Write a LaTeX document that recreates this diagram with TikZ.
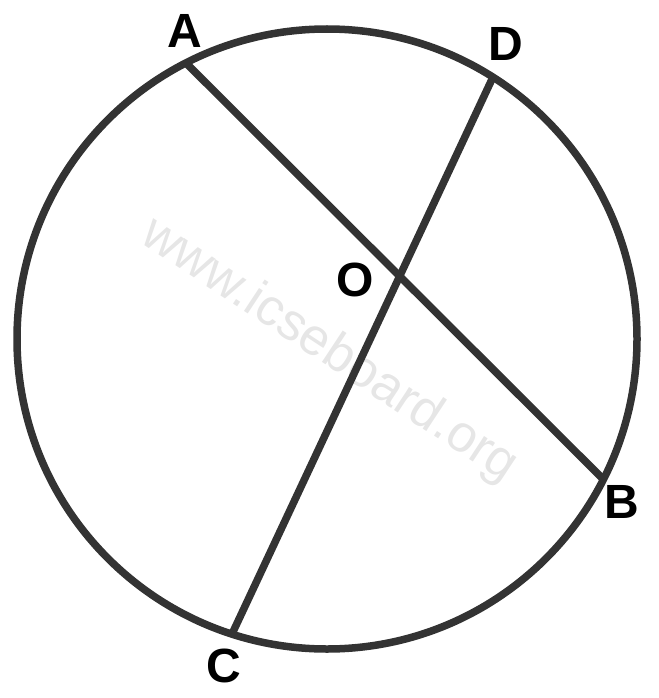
\documentclass[tikz,border=0pt]{standalone}
\usepackage{fontspec}
\setmainfont{Liberation Sans}
\definecolor{stroke}{HTML}{333333}
\definecolor{wmark}{HTML}{E6E6E6}
\begin{document}
\begin{tikzpicture}[x=1pt,y=-1pt,
  geo/.style={draw=stroke,line width=7.5pt},
  lbl/.style={font=\fontsize{48}{48}\selectfont\bfseries,inner sep=0pt,text=black},
  wm/.style={font=\fontsize{52}{52}\selectfont,text=wmark,inner sep=0pt}]
\useasboundingbox (0,0) rectangle (658,698);
\node[wm,anchor=base,rotate=-33.4] (wmk) at (321.5,362) {www.icseboard.org};
\coordinate (Ctr) at (327,339);
\coordinate (A) at (186,63);
\coordinate (B) at (603,479);
\coordinate (C) at (232,634);
\coordinate (D) at (493,77);
\coordinate (O) at (intersection of A--B and C--D);
\draw[geo] (Ctr) circle[radius=310];
\draw[geo] (A) -- (B);
\draw[geo] (C) -- (D);
\node[lbl] (lA) at (185,31) {A};
\node[lbl] (lD) at (506,44) {D};
\node[lbl] (lB) at (622,502) {B};
\node[lbl] (lC) at (224,666) {C};
\node[lbl] (lO) at (355,280) {O};
\end{tikzpicture}
\end{document}
